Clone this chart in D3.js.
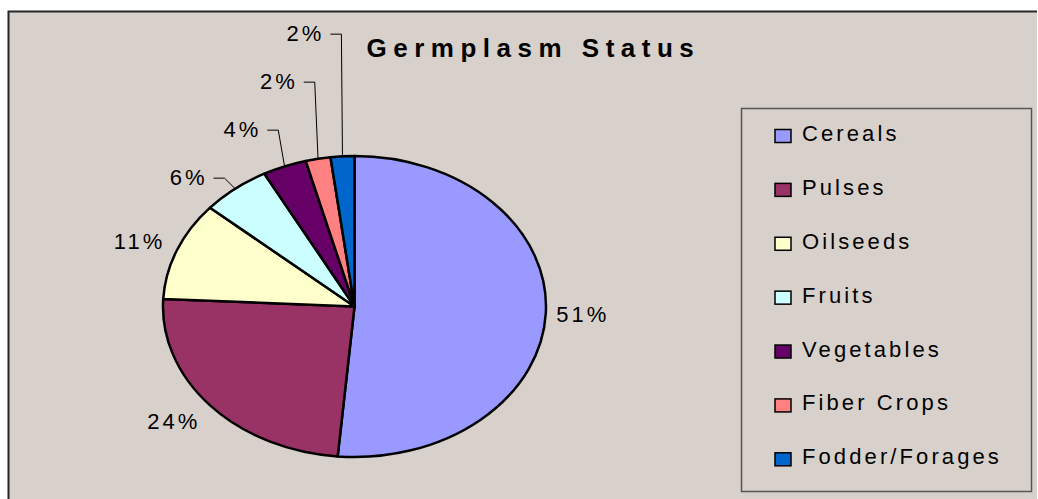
<!DOCTYPE html>
<html>
<head>
<meta charset="utf-8">
<script src="https://cdn.jsdelivr.net/npm/d3@7"></script>
<style>
  html, body { margin: 0; padding: 0; background: #fff; }
  svg { display: block; font-family: "Liberation Sans", Arial, sans-serif; }
</style>
</head>
<body>
<div id="chart"></div>
<script>
// Germplasm status pie (Excel-style elliptical pie)
const title = 'Germplasm Status';
const categories = ['Cereals', 'Pulses', 'Oilseeds', 'Fruits', 'Vegetables', 'Fiber Crops', 'Fodder/Forages'];
const values = [51.4, 24.4, 10.6, 5.8, 3.7, 2.1, 2.0];
const colors = ['#9999ff', '#993366', '#ffffcc', '#ccffff', '#660066', '#ff8080', '#0066cc'];

const width = 1038, height = 499;
const svg = d3.select('#chart').append('svg')
  .attr('width', width)
  .attr('height', height);

// chart area background, cropped at right/bottom like the source
svg.append('rect')
  .attr('x', 8).attr('y', 11)
  .attr('width', 1029).attr('height', 500)
  .attr('fill', '#d8d0ca');
svg.append('path')
  .attr('d', 'M8.5,499 L8.5,11.5 L1037,11.5')
  .attr('fill', 'none')
  .attr('stroke', '#262626')
  .attr('stroke-width', 2);

svg.append('text')
  .attr('x', 366.5)
  .attr('y', 56.5)
  .attr('font-size', 26)
  .attr('font-weight', 'bold')
  .attr('letter-spacing', 6.5)
  .attr('fill', '#000')
  .text(title);

// pie geometry
const cx = 354.5, cy = 306.5, rx = 191.5, ry = 150.5;
const total = d3.sum(values);
const fmt = v => d3.format('.0f')(v / total * 100) + '%';

const pie = d3.pie().sort(null).startAngle(0).endAngle(2 * Math.PI);
const arcs = pie(values);
const arc = d3.arc().innerRadius(0).outerRadius(rx);

const pieG = svg.append('g')
  .attr('transform', `translate(${cx},${cy}) scale(1,${ry / rx})`);

pieG.selectAll('path')
  .data(arcs)
  .join('path')
  .attr('d', arc)
  .attr('fill', (d, i) => colors[i])
  .attr('stroke', '#000')
  .attr('stroke-width', 2.5)
  .attr('stroke-linejoin', 'round')
  .attr('vector-effect', 'non-scaling-stroke');

// point on the ellipse at angle a, scaled by s
const pt = (a, s) => [cx + Math.sin(a) * rx * s, cy - Math.cos(a) * ry * s];

// labels
const labelG = svg.append('g')
  .attr('font-size', 22)
  .attr('letter-spacing', 3)
  .attr('fill', '#000');

let prevY = null;
arcs.forEach(d => {
  const mid = (d.startAngle + d.endAngle) / 2;
  const share = d.value / total;
  if (share >= 0.08) {
    const [x, y] = pt(mid, 1.06);
    const right = Math.sin(mid) >= 0;
    labelG.append('text')
      .attr('x', right ? x - 1 : x - 1)
      .attr('y', y - Math.cos(mid) * 16)
      .attr('dy', '0.35em')
      .attr('text-anchor', right ? 'start' : 'end')
      .text(fmt(d.value));
  } else {
    // stacked labels with leader lines for small slices
    const edge = pt(mid, 1.0);
    const nat = pt(mid, 1.09);
    let ey = nat[1];
    if (prevY !== null) ey = Math.min(ey, prevY - 48);
    prevY = ey;
    const ex = nat[0];
    svg.append('path')
      .attr('d', `M${ex - 11},${ey} L${ex},${ey} L${edge[0]},${edge[1]}`)
      .attr('fill', 'none')
      .attr('stroke', '#000')
      .attr('stroke-width', 1);
    labelG.append('text')
      .attr('x', ex - 20 + 3)
      .attr('y', ey + 7)
      .attr('text-anchor', 'end')
      .text(fmt(d.value));
  }
});

// legend
const legendG = svg.append('g');
legendG.append('rect')
  .attr('x', 741.5).attr('y', 108.5)
  .attr('width', 290).attr('height', 383)
  .attr('fill', 'none')
  .attr('stroke', '#555')
  .attr('stroke-width', 1.5);

const ly = d3.scalePoint().domain(categories).range([141, 464.3]);
const rows = legendG.selectAll('g.row')
  .data(categories)
  .join('g')
  .attr('class', 'row')
  .attr('transform', c => `translate(0,${ly(c)})`);

rows.append('rect')
  .attr('x', 775).attr('y', -11.5)
  .attr('width', 16).attr('height', 13)
  .attr('fill', (c, i) => colors[i])
  .attr('stroke', '#000')
  .attr('stroke-width', 1.5);

rows.append('text')
  .attr('x', 802)
  .attr('y', 0)
  .attr('font-size', 22)
  .attr('letter-spacing', 3.1)
  .attr('fill', '#000')
  .text(c => c);
</script>
</body>
</html>
